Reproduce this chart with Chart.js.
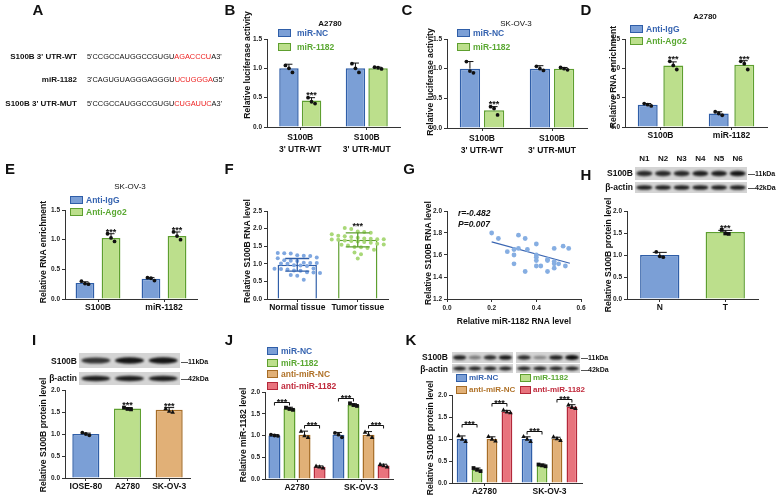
<!DOCTYPE html>
<html lang="en">
<head>
<meta charset="UTF-8">
<title>miR-1182 / S100B figure</title>
<script src="https://cdn.jsdelivr.net/npm/chart.js"></script>
<style>
  body { margin: 0; background: #fff; }
  #fig { position: relative; width: 777px; height: 495px; overflow: hidden; background: #fff;
         font-family: "Liberation Sans", Arial, sans-serif; }
  #fig canvas { position: absolute; }
  .t { position: absolute; white-space: nowrap; line-height: 1; color: #111; }
  .box { position: absolute; box-sizing: border-box; border: 1.5px solid; }
</style>
</head>
<body>
<div id="fig"><canvas id="blots" width="777" height="495" style="left:0;top:0;width:777px;height:495px"></canvas></div>
<script>
// ---------------- data ----------------
// A: binding sites
const seqNames = ["S100B 3' UTR-WT", "miR-1182", "S100B 3' UTR-MUT"];
const seqHead = ["5'CCGCCAUGGCCGUGU", "3'CAGUGUAGGGAGGGU", "5'CCGCCAUGGCCGUGU"];
const seqSite = ["AGACCCU", "UCUGGGA", "CUGAUUC"];
const seqTail = ["A3'", "G5'", "A3'"];

// B, C: luciferase reporter
const lucCats = [["S100B", "3' UTR-WT"], ["S100B", "3' UTR-MUT"]];
const bNC = [1.00, 1.00], bNCsd = [0.07, 0.09], bNCpts = [[1.05, 0.93, 1.00], [1.08, 0.93, 1.00]];
const bMiR = [0.45, 1.00], bMiRsd = [0.05, 0.02], bMiRpts = [[0.50, 0.40, 0.43], [1.02, 0.99, 1.01]];
const cNC = [1.00, 1.00], cNCsd = [0.12, 0.05], cNCpts = [[1.12, 0.93, 0.96], [1.04, 0.97, 1.00]];
const cMiR = [0.30, 1.00], cMiRsd = [0.06, 0.02], cMiRpts = [[0.36, 0.22, 0.33], [1.02, 0.98, 1.00]];

// D, E: RIP
const ripCats = ["S100B", "miR-1182"];
const dIgG = [0.38, 0.23], dIgGsd = [0.02, 0.03], dIgGpts = [[0.40, 0.36, 0.38], [0.26, 0.20, 0.23]];
const dAgo = [1.05, 1.06], dAgosd = [0.06, 0.07], dAgopts = [[1.12, 0.98, 1.05], [1.12, 0.98, 1.08]];
const eIgG = [0.27, 0.34], eIgGsd = [0.02, 0.02], eIgGpts = [[0.30, 0.25, 0.26], [0.36, 0.31, 0.35]];
const eAgo = [1.03, 1.06], eAgosd = [0.07, 0.07], eAgopts = [[1.10, 0.97, 1.03], [1.13, 1.00, 1.06]];

// F: tissues
const tissueCats = ["Normal tissue", "Tumor tissue"];
const tissueMean = [0.97, 1.68], tissueSd = [0.18, 0.20];
const normalPts = [1.31, 1.30, 1.29, 1.24, 1.23, 1.22, 1.18, 1.16, 1.10, 1.09, 1.08, 1.03, 1.02, 1.02, 1.01, 1.00,
                   0.96, 0.95, 0.94, 0.87, 0.86, 0.85, 0.84, 0.81, 0.80, 0.76, 0.75, 0.74, 0.68, 0.66, 0.55];
const tumorPts = [2.02, 1.99, 1.92, 1.90, 1.88, 1.84, 1.80, 1.78, 1.76, 1.74, 1.72, 1.71, 1.70, 1.70, 1.69, 1.68,
                  1.66, 1.65, 1.63, 1.62, 1.60, 1.57, 1.55, 1.54, 1.52, 1.48, 1.47, 1.45, 1.40, 1.32, 1.27, 1.15];

// G: correlation
const corrMiR = [0.20, 0.23, 0.27, 0.30, 0.30, 0.30, 0.32, 0.32, 0.35, 0.36, 0.35, 0.40, 0.40, 0.40,
                 0.40, 0.40, 0.42, 0.45, 0.45, 0.45, 0.48, 0.48, 0.48, 0.48, 0.50, 0.52, 0.53, 0.545];
const corrS100B = [1.80, 1.75, 1.63, 1.65, 1.60, 1.52, 1.78, 1.66, 1.75, 1.65, 1.45, 1.70, 1.60, 1.58,
                   1.55, 1.50, 1.50, 1.56, 1.55, 1.45, 1.66, 1.54, 1.52, 1.48, 1.52, 1.68, 1.50, 1.66];
const fitX = [0.20, 0.55], fitY = [1.72, 1.525];

// H: patient protein
const hLanes = ["N1", "N2", "N3", "N4", "N5", "N6"];
const hCats = ["N", "T"];
const hMean = [1.00, 1.52], hSd = [0.06, 0.04], hPts = [[1.07, 0.95, 0.97], [1.57, 1.48, 1.49]];

// I: cell lines
const iCats = ["IOSE-80", "A2780", "SK-OV-3"];
const iMean = [1.00, 1.58, 1.55], iSd = [0.02, 0.02, 0.05];
const iPts = [[1.03, 0.97, 1.00], [1.60, 1.56, 1.57], [1.58, 1.50, 1.52]];

// J, K: transfections
const cellCats = ["A2780", "SK-OV-3"];
const jNC = [1.00, 1.02], jNCsd = [0.02, 0.05], jNCpts = [[1.02, 0.99, 1.00], [1.06, 0.96, 1.02]];
const jMiR = [1.62, 1.70], jMiRsd = [0.03, 0.03], jMiRpts = [[1.64, 1.59, 1.61], [1.74, 1.68, 1.70]];
const jAnc = [1.02, 1.02], jAncsd = [0.08, 0.07], jAncpts = [[1.10, 0.96, 1.00], [1.08, 0.96, 1.02]];
const jAmi = [0.28, 0.31], jAmisd = [0.02, 0.03], jAmipts = [[0.30, 0.26, 0.28], [0.34, 0.28, 0.31]];
const jBrackets = [[0, 0, 1, 1.78], [0, 2, 3, 1.25], [1, 0, 1, 1.86], [1, 2, 3, 1.25]];
const kNC = [1.00, 1.00], kNCsd = [0.07, 0.05], kNCpts = [[1.08, 0.95, 1.00], [1.06, 0.95, 1.00]];
const kMiR = [0.30, 0.40], kMiRsd = [0.04, 0.03], kMiRpts = [[0.34, 0.27, 0.30], [0.42, 0.38, 0.40]];
const kAnc = [1.00, 1.00], kAncsd = [0.05, 0.04], kAncpts = [[1.06, 0.96, 1.00], [1.05, 0.97, 1.01]];
const kAmi = [1.62, 1.74], kAmisd = [0.03, 0.04], kAmipts = [[1.66, 1.60, 1.62], [1.78, 1.70, 1.72]];
const kBrackets = [[0, 0, 1, 1.34], [0, 2, 3, 1.82], [1, 0, 1, 1.18], [1, 2, 3, 1.90]];

// ---------------- styles ----------------
const FONT = '"Liberation Sans", Arial, sans-serif';
const AX = '#333';
const BLUE = { fill: '#7b9fd6', line: '#2f5ea8', text: '#3563b0' };
const GREEN = { fill: '#bcdf8c', line: '#5e9f2f', text: '#5aa832' };
const ORANGE = { fill: '#e1b077', line: '#a66c26', text: '#b07228' };
const RED = { fill: '#e8737d', line: '#b3283a', text: '#c02a3c' };
const SEQRED = '#ee2222';

Chart.defaults.font.family = FONT;
const fig = document.getElementById('fig');

function txt(x, y, s, o) {
  o = o || {};
  const d = document.createElement('div');
  d.className = 't';
  d.innerHTML = s;
  d.style.left = x + 'px';
  d.style.top = y + 'px';
  d.style.fontSize = (o.size || 8.5) + 'px';
  d.style.fontWeight = o.bold === false ? 'normal' : 'bold';
  if (o.italic) d.style.fontStyle = 'italic';
  if (o.color) d.style.color = o.color;
  const ax = o.align === 'left' ? '0' : o.align === 'right' ? '-100%' : '-50%';
  d.style.transform = 'translate(' + ax + ',-50%)' + (o.rot ? ' rotate(-90deg)' : '');
  fig.appendChild(d);
}

function legendItem(x, y, col, label, o) {
  o = o || {};
  const w = o.w || 13, gap = o.gap || 16;
  const b = document.createElement('div');
  b.className = 'box';
  Object.assign(b.style, { left: x + 'px', top: (y - 4) + 'px', width: w + 'px', height: '8px',
                           background: col.fill, borderColor: col.line });
  fig.appendChild(b);
  txt(x + gap, y, label, { size: o.size || 8.5, color: col.text, align: 'left' });
}

function dot(ctx, x, y, shape, color, r) {
  ctx.fillStyle = color;
  ctx.beginPath();
  if (shape === 'rect') ctx.rect(x - r, y - r, 2 * r, 2 * r);
  else if (shape === 'triangle') {
    ctx.moveTo(x, y - r * 1.3); ctx.lineTo(x + r * 1.2, y + r * 0.9); ctx.lineTo(x - r * 1.2, y + r * 0.9); ctx.closePath();
  } else ctx.arc(x, y, r, 0, Math.PI * 2);
  ctx.fill();
}

function stars(ctx, x, yBottom) {
  ctx.fillStyle = '#111';
  ctx.font = 'bold 9px ' + FONT;
  ctx.textAlign = 'center';
  ctx.textBaseline = 'alphabetic';
  ctx.fillText('***', x, yBottom + 3.8);
}

// beeswarm layout for the tissue dots
function swarm(vals, ys, cx, step) {
  const rows = [];
  vals.map(v => ys.getPixelForValue(v)).sort((a, b) => a - b).forEach(py => {
    let r = rows.find(r => Math.abs(r.y - py) < 5);
    if (!r) { r = { y: py, n: [] }; rows.push(r); }
    r.n.push(py);
  });
  const out = [];
  rows.forEach(r => r.n.forEach((py, k) => out.push([cx + (k - (r.n.length - 1) / 2) * step, py])));
  return out;
}

// error bars, replicate dots, significance marks
function marks(p) {
  return {
    id: 'marks',
    afterDatasetsDraw(chart) {
      const ctx = chart.ctx, ys = chart.scales.y;
      ctx.save();
      ctx.lineWidth = 1;
      (p.series || []).forEach((s, i) => {
        chart.getDatasetMeta(i).data.forEach((bar, j) => {
          const x = bar.x;
          const shape = Array.isArray(s.shape) ? s.shape[j] : (s.shape || 'circle');
          const pts = s.swarm ? swarm(s.pts[j], ys, x, s.swarm)
                              : s.pts[j].map((v, k) => [x + [-3.5, 3.5, 0][k % 3], ys.getPixelForValue(v)]);
          let topPt = Infinity;
          pts.forEach(([px, py]) => {
            dot(ctx, px, py, shape, Array.isArray(s.dotColor) ? s.dotColor[j] : (s.dotColor || '#111'), s.r || 1.9);
            topPt = Math.min(topPt, py);
          });
          const yTop = ys.getPixelForValue(s.mean[j] + s.sd[j]);
          const yBot = ys.getPixelForValue(s.both ? s.mean[j] - s.sd[j] : s.mean[j]);
          const cw = s.cap || 3.5;
          ctx.strokeStyle = Array.isArray(s.errColor) ? s.errColor[j] : (s.errColor || '#111');
          ctx.lineWidth = s.errWidth || 1;
          ctx.beginPath();
          ctx.moveTo(x, yTop); ctx.lineTo(x, yBot);
          ctx.moveTo(x - cw, yTop); ctx.lineTo(x + cw, yTop);
          if (s.both) { ctx.moveTo(x - cw, yBot); ctx.lineTo(x + cw, yBot); }
          ctx.stroke();
          if (s.stars && s.stars[j]) stars(ctx, x, Math.min(yTop, topPt - 2) - 1);
        });
      });
      (p.brackets || []).forEach(([cat, a, b, v]) => {
        const x1 = chart.getDatasetMeta(a).data[cat].x, x2 = chart.getDatasetMeta(b).data[cat].x;
        const yy = Math.round(ys.getPixelForValue(v)) + 0.5;
        ctx.strokeStyle = '#111'; ctx.lineWidth = 1;
        ctx.beginPath();
        ctx.moveTo(x1, yy + 3); ctx.lineTo(x1, yy); ctx.lineTo(x2, yy); ctx.lineTo(x2, yy + 3);
        ctx.stroke();
        stars(ctx, (x1 + x2) / 2, yy - 1);
      });
      ctx.restore();
    }
  };
}

function mkCanvas(x, y, w, h) {
  const c = document.createElement('canvas');
  c.width = w; c.height = h;
  Object.assign(c.style, { left: x + 'px', top: y + 'px', width: w + 'px', height: h + 'px' });
  fig.appendChild(c);
  return c;
}

function yScale(min, max, step, YW) {
  return {
    min: min, max: max,
    ticks: { stepSize: step, color: '#222', font: { size: 6.5, weight: 'bold' }, padding: 2,
             callback: v => (+v).toFixed(1) },
    grid: { drawOnChartArea: false, tickLength: 3, color: AX },
    border: { color: AX, width: 1 },
    afterFit: s => { s.width = YW; }
  };
}

function xCat(XH, lh) {
  return {
    grid: { drawOnChartArea: false, offset: false, tickLength: 3, color: AX },
    border: { color: AX, width: 1 },
    ticks: { color: '#111', font: { size: 8.5, weight: 'bold', lineHeight: lh || 1.2 }, padding: 1,
             maxRotation: 0, autoSkip: false },
    afterFit: s => { s.height = XH; }
  };
}

function barDs(data, col, bp, cp, white) {
  return { data: data, backgroundColor: white ? '#fff' : col.fill, borderColor: col.line, borderWidth: 1.5,
           barPercentage: bp, categoryPercentage: cp };
}

function barPanel(p) {
  const YW = 22, XH = p.xh || 24, PT = 8, PR = 6;
  const c = mkCanvas(p.x0 - YW, p.yTop - PT, p.x1 - p.x0 + YW + PR, p.yBot - p.yTop + PT + XH);
  return new Chart(c, {
    type: 'bar',
    data: { labels: p.labels, datasets: p.datasets },
    options: {
      responsive: false, animation: false,
      layout: { padding: { top: PT, right: PR, left: 0, bottom: 0 } },
      plugins: { legend: { display: false }, tooltip: { enabled: false } },
      scales: { x: xCat(XH, p.lh), y: yScale(0, p.yMax, p.step || 0.5, YW) }
    },
    plugins: [marks(p)]
  });
}

// ---------------- panel A ----------------
seqNames.forEach((n, k) => {
  const y = [57, 80, 104][k];
  txt(77, y, n, { size: 8, align: 'right' });
  txt(87, y, seqHead[k] + '<span style="color:' + SEQRED + '">' + seqSite[k] + '</span>' + seqTail[k],
      { size: 7.4, bold: false, align: 'left' });
});

// ---------------- panel B ----------------
barPanel({
  x0: 267, x1: 400, yTop: 39, yBot: 127, yMax: 1.5, xh: 32, lh: 1.5, labels: lucCats,
  datasets: [barDs(bNC, BLUE, 0.86, 0.68), barDs(bMiR, GREEN, 0.86, 0.68)],
  series: [{ mean: bNC, sd: bNCsd, pts: bNCpts }, { mean: bMiR, sd: bMiRsd, pts: bMiRpts, stars: [1, 0] }]
});
// ---------------- panel C ----------------
barPanel({
  x0: 447, x1: 587, yTop: 39, yBot: 128, yMax: 1.5, xh: 32, lh: 1.5, labels: lucCats,
  datasets: [barDs(cNC, BLUE, 0.84, 0.69), barDs(cMiR, GREEN, 0.84, 0.69)],
  series: [{ mean: cNC, sd: cNCsd, pts: cNCpts }, { mean: cMiR, sd: cMiRsd, pts: cMiRpts, stars: [1, 0] }]
});
// ---------------- panel D ----------------
barPanel({
  x0: 625, x1: 767, yTop: 39, yBot: 127, yMax: 1.5, labels: ripCats,
  datasets: [barDs(dIgG, BLUE, 0.78, 0.72), barDs(dAgo, GREEN, 0.78, 0.72)],
  series: [{ mean: dIgG, sd: dIgGsd, pts: dIgGpts }, { mean: dAgo, sd: dAgosd, pts: dAgopts, stars: [1, 1] }]
});
// ---------------- panel E ----------------
barPanel({
  x0: 65, x1: 197, yTop: 210, yBot: 299, yMax: 1.5, labels: ripCats,
  datasets: [barDs(eIgG, BLUE, 0.72, 0.79), barDs(eAgo, GREEN, 0.72, 0.79)],
  series: [{ mean: eIgG, sd: eIgGsd, pts: eIgGpts }, { mean: eAgo, sd: eAgosd, pts: eAgopts, stars: [1, 1] }]
});
// ---------------- panel F ----------------
barPanel({
  x0: 267, x1: 388, yTop: 211, yBot: 299, yMax: 2.5, labels: tissueCats,
  datasets: [{ data: tissueMean, backgroundColor: '#fff', borderColor: [BLUE.line, GREEN.line], borderWidth: 1.5,
               barPercentage: 1, categoryPercentage: 0.65 }],
  series: [{ mean: tissueMean, sd: tissueSd, pts: [normalPts, tumorPts], swarm: 6.5, both: true, cap: 12, r: 2,
             dotColor: ['#7fa7e0', '#a9d878'], errColor: [BLUE.line, GREEN.line], errWidth: 1.3, stars: [0, 1] }]
});
// ---------------- panel G ----------------
(function () {
  const YW = 22, XH = 28, PT = 8, PR = 10, x0 = 447, x1 = 581, yTop = 211, yBot = 299;
  const c = mkCanvas(x0 - YW, yTop - PT, x1 - x0 + YW + PR, yBot - yTop + PT + XH);
  new Chart(c, {
    type: 'scatter',
    data: {
      datasets: [
        { data: corrMiR.map((x, k) => ({ x: x, y: corrS100B[k] })), backgroundColor: '#86aee2',
          borderWidth: 0, pointRadius: 2.4 },
        { type: 'line', data: fitX.map((x, k) => ({ x: x, y: fitY[k] })), borderColor: '#3b66b2',
          borderWidth: 1.2, pointRadius: 0, fill: false }
      ]
    },
    options: {
      responsive: false, animation: false,
      layout: { padding: { top: PT, right: PR, left: 0, bottom: 0 } },
      plugins: { legend: { display: false }, tooltip: { enabled: false } },
      scales: {
        x: {
          type: 'linear', min: 0, max: 0.6,
          ticks: { stepSize: 0.2, color: '#222', font: { size: 6.5, weight: 'bold' }, padding: 2,
                   callback: v => (+v).toFixed(1) },
          grid: { drawOnChartArea: false, tickLength: 3, color: AX },
          border: { color: AX },
          title: { display: true, text: 'Relative miR-1182 RNA level', color: '#111',
                   font: { size: 8.5, weight: 'bold' }, padding: { top: 3, bottom: 0 } },
          afterFit: s => { s.height = XH; }
        },
        y: yScale(1.2, 2.0, 0.2, YW)
      }
    }
  });
})();
// ---------------- panel H ----------------
barPanel({
  x0: 627, x1: 758, yTop: 211, yBot: 299, yMax: 2.0, labels: hCats,
  datasets: [{ data: hMean, backgroundColor: [BLUE.fill, GREEN.fill], borderColor: [BLUE.line, GREEN.line],
               borderWidth: 1.5, barPercentage: 1, categoryPercentage: 0.6 }],
  series: [{ mean: hMean, sd: hSd, pts: hPts, cap: 7, shape: ['circle', 'rect'], stars: [0, 1] }]
});
// ---------------- panel I ----------------
barPanel({
  x0: 65, x1: 190, yTop: 390, yBot: 478, yMax: 2.0, labels: iCats,
  datasets: [{ data: iMean, backgroundColor: [BLUE.fill, GREEN.fill, ORANGE.fill],
               borderColor: [BLUE.line, GREEN.line, ORANGE.line], borderWidth: 1.5,
               barPercentage: 1, categoryPercentage: 0.65 }],
  series: [{ mean: iMean, sd: iSd, pts: iPts, cap: 5, shape: ['circle', 'rect', 'triangle'], stars: [0, 1, 1] }]
});
// ---------------- panel J ----------------
barPanel({
  x0: 265, x1: 393, yTop: 392, yBot: 479, yMax: 2.0, labels: cellCats,
  datasets: [barDs(jNC, BLUE, 0.8, 0.94), barDs(jMiR, GREEN, 0.8, 0.94),
             barDs(jAnc, ORANGE, 0.8, 0.94), barDs(jAmi, RED, 0.8, 0.94)],
  series: [{ mean: jNC, sd: jNCsd, pts: jNCpts }, { mean: jMiR, sd: jMiRsd, pts: jMiRpts, shape: 'rect' },
           { mean: jAnc, sd: jAncsd, pts: jAncpts, shape: 'triangle' }, { mean: jAmi, sd: jAmisd, pts: jAmipts, shape: 'triangle' }],
  brackets: jBrackets
});
// ---------------- panel K ----------------
barPanel({
  x0: 452, x1: 582, yTop: 395, yBot: 483, yMax: 2.0, labels: cellCats,
  datasets: [barDs(kNC, BLUE, 0.72, 0.92), barDs(kMiR, GREEN, 0.72, 0.92),
             barDs(kAnc, ORANGE, 0.72, 0.92), barDs(kAmi, RED, 0.72, 0.92)],
  series: [{ mean: kNC, sd: kNCsd, pts: kNCpts, shape: 'triangle' }, { mean: kMiR, sd: kMiRsd, pts: kMiRpts, shape: 'rect' },
           { mean: kAnc, sd: kAncsd, pts: kAncpts, shape: 'triangle' }, { mean: kAmi, sd: kAmisd, pts: kAmipts, shape: 'triangle' }],
  brackets: kBrackets
});

// ---------------- western blots ----------------
const bctx = document.getElementById('blots').getContext('2d');
function blot(x, y, w, h, strengths, thick) {
  bctx.save();
  bctx.fillStyle = '#d4d4d4';
  bctx.fillRect(x, y, w, h);
  const lw = w / strengths.length;
  bctx.filter = 'blur(0.8px)';
  strengths.forEach((s, k) => {
    bctx.fillStyle = 'rgba(12,12,12,' + s + ')';
    bctx.beginPath();
    bctx.ellipse(x + lw * (k + 0.5), y + h / 2, lw * 0.43, h * (thick || 0.22) * (0.6 + 0.4 * s), 0, 0, Math.PI * 2);
    bctx.fill();
  });
  bctx.restore();
}
blot(635, 167, 112, 13, [0.85, 0.85, 0.85, 0.9, 0.9, 0.95]);
blot(635, 182, 112, 11, [0.9, 0.9, 0.9, 0.9, 0.9, 0.9]);
blot(79, 353, 101, 15, [0.8, 0.95, 0.95]);
blot(79, 372, 101, 13, [0.9, 0.9, 0.9]);
blot(452, 352, 61, 11, [0.9, 0.45, 0.85, 0.95]);
blot(516, 352, 64, 11, [0.85, 0.4, 0.9, 1.0]);
blot(452, 364, 61, 9, [0.9, 0.9, 0.9, 0.9]);
blot(516, 364, 64, 9, [0.9, 0.9, 0.9, 0.9]);

hLanes.forEach((l, k) => txt(635 + 112 / 6 * (k + 0.5), 159, l, { size: 8 }));
txt(633, 173, 'S100B', { size: 8.5, align: 'right' });
txt(633, 187, '&beta;-actin', { size: 8.5, align: 'right' });
txt(748, 173, '&mdash;11kDa', { size: 7, align: 'left' });
txt(748, 187, '&mdash;42kDa', { size: 7, align: 'left' });
txt(77, 361, 'S100B', { size: 8.5, align: 'right' });
txt(77, 378, '&beta;-actin', { size: 8.5, align: 'right' });
txt(181, 361, '&mdash;11kDa', { size: 7, align: 'left' });
txt(181, 378, '&mdash;42kDa', { size: 7, align: 'left' });
txt(448, 357, 'S100B', { size: 8.5, align: 'right' });
txt(448, 369, '&beta;-actin', { size: 8.5, align: 'right' });
txt(581, 357, '&mdash;11kDa', { size: 7, align: 'left' });
txt(581, 369, '&mdash;42kDa', { size: 7, align: 'left' });

// ---------------- titles, legends, labels ----------------
txt(330, 24, 'A2780', { size: 8 });
txt(516, 24, 'SK-OV-3', { size: 8, bold: false });
txt(705, 17, 'A2780', { size: 8 });
txt(130, 187, 'SK-OV-3', { size: 8, bold: false });

legendItem(278, 33, BLUE, 'miR-NC', { gap: 19 }); legendItem(278, 47, GREEN, 'miR-1182', { gap: 19 });
legendItem(457, 33, BLUE, 'miR-NC'); legendItem(457, 47, GREEN, 'miR-1182');
legendItem(630, 29, BLUE, 'Anti-IgG'); legendItem(630, 41, GREEN, 'Anti-Ago2');
legendItem(70, 200, BLUE, 'Anti-IgG'); legendItem(70, 212, GREEN, 'Anti-Ago2');
const jl = { w: 11, gap: 14, size: 8.5 };
legendItem(267, 351, BLUE, 'miR-NC', jl); legendItem(267, 363, GREEN, 'miR-1182', jl);
legendItem(267, 374, ORANGE, 'anti-miR-NC', jl); legendItem(267, 386, RED, 'anti-miR-1182', jl);
const kl = { w: 11, gap: 13, size: 8 };
legendItem(456, 378, BLUE, 'miR-NC', kl); legendItem(520, 378, GREEN, 'miR-1182', kl);
legendItem(456, 390, ORANGE, 'anti-miR-NC', kl); legendItem(520, 390, RED, 'anti-miR-1182', kl);

const yt = { size: 8.6, rot: true };
txt(247, 65, 'Relative luciferase activity', yt);
txt(430, 82, 'Relative luciferase activity', yt);
txt(613, 77, 'Relative RNA enrichment', yt);
txt(43, 252, 'Relative RNA enrichment', yt);
txt(247, 251, 'Relative S100B RNA level', yt);
txt(428, 253, 'Relative S100B RNA level', yt);
txt(608, 255, 'Relative S100B protein level', yt);
txt(43, 435, 'Relative S100B protein level', yt);
txt(243, 435, 'Relative miR-1182 level', yt);
txt(430, 438, 'Relative S100B protein level', yt);

txt(458, 213, 'r=-0.482', { size: 8.5, italic: true, align: 'left' });
txt(458, 224, 'P=0.007', { size: 8.5, italic: true, align: 'left' });

[['A', 38, 9], ['B', 230, 9], ['C', 407, 9], ['D', 586, 9], ['E', 10, 168], ['F', 229, 168], ['G', 409, 168],
 ['H', 586, 174], ['I', 34, 339], ['J', 229, 339], ['K', 411, 339]]
  .forEach(([l, x, y]) => txt(x, y, l, { size: 15 }));
</script>
</body>
</html>
